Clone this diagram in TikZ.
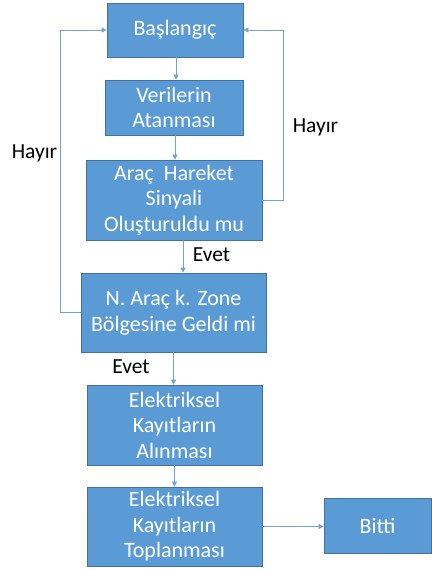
\documentclass[tikz,border=0pt]{standalone}
\usepackage{fontspec}
\setmainfont{Carlito}
\usetikzlibrary{arrows.meta}
\definecolor{boxfill}{HTML}{5B9BD5}
\definecolor{boxline}{HTML}{41719C}
\definecolor{linkcol}{HTML}{6FA3D8}
\tikzset{
  stepbox/.style={draw=boxline, line width=0.8pt, fill=boxfill, text=white,
    align=center, inner sep=0pt, font=\fontsize{22}{25.5}\selectfont},
  link/.style={draw=linkcol, line width=1pt, -{Triangle[length=5pt,width=5pt]}},
  lbl/.style={font=\fontsize{21.5}{24}\selectfont, text=black}
}
\begin{document}
\begin{tikzpicture}[x=1pt,y=-1pt]
      \useasboundingbox (0,0) rectangle (431,570);
      \draw
        (175,30) node[stepbox, minimum width=136pt, minimum height=54pt] (start){Başlangıç}
        (174,107.5) node[stepbox, minimum width=138pt, minimum height=55pt] (veri){Verilerin\\Atanması}
        (174,200) node[stepbox, minimum width=176pt, minimum height=80pt] (sinyal){Araç~~Hareket\\Sinyali\\Oluşturuldu mu}
        (173.5,312.5) node[stepbox, minimum width=185pt, minimum height=79pt] (zone){N. Araç k. Zone\\Bölgesine Geldi mi}
        (174.5,425) node[stepbox, minimum width=175pt, minimum height=80pt] (alin){Elektriksel\\Kayıtların\\Alınması}
        (174.5,526.5) node[stepbox, minimum width=175pt, minimum height=79pt] (topla){Elektriksel\\Kayıtların\\Toplanması}
        (377.5,525.5) node[stepbox, minimum width=107pt, minimum height=55pt] (bitti){Bitti};
      \draw
        (34.5,153) node[lbl] (hayir1){Hayır}
        (315.5,127) node[lbl] (hayir2){Hayır}
        (211.5,255) node[lbl] (evet1){Evet}
        (131,367) node[lbl] (evet2){Evet};
      \begin{scope}[link]
        \draw ([xshift=1pt]start.south) to ([xshift=1pt]start.south |- veri.north);
        \draw ([xshift=1pt]veri.south) to ([xshift=1pt]veri.south |- sinyal.north);
        \draw ([xshift=9pt]sinyal.south) to ([xshift=9pt]sinyal.south |- zone.north);
        \draw (zone.south) to (zone.south |- alin.north);
        \draw (alin.south) to (topla.north);
        \draw (topla.east) to (topla.east -| bitti.west);
        \draw (zone.west) -- ++(-20,0) |- (start.west);
        \draw (sinyal.east) -- ++(21,0) |- (start.east);
      \end{scope}
    \end{tikzpicture}
\end{document}
